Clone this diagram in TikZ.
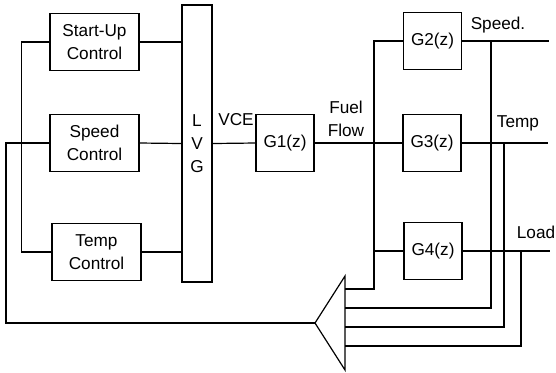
\documentclass[tikz,border=0pt]{standalone}
\usepackage{fontspec}
\setmainfont{Liberation Sans}

\begin{document}
\begin{tikzpicture}[x=0.5pt, y=-0.5pt, line width=0.6pt,
  font=\fontsize{8.6}{11.6}\selectfont,
  ctrl/.style={draw, minimum width=44.5pt, minimum height=28.5pt, inner sep=0pt, align=center},
  gbox/.style={draw, minimum width=29pt, minimum height=28.5pt, inner sep=0pt},
  lbl/.style={inner sep=0pt, align=center}]
\useasboundingbox (0,0) rectangle (556,372);

% controllers and selector
\node[ctrl] (su) at (94.5,42) {Start-Up\\Control};
\node[ctrl] (sc) at (94.5,143) {Speed\\Control};
\node[ctrl] (tc) at (96.5,252) {Temp\\Control};
\node[draw, minimum width=15pt, minimum height=138.5pt, inner sep=0pt, align=center] (lvg) at (197,143.5) {L\\V\\G};

% plant blocks
\node[gbox] (g1) at (285,143) {G1(z)};
\node[gbox] (g2) at (432.5,41) {G2(z)};
\node[gbox] (g3) at (432,143) {G3(z)};
\node[gbox] (g4) at (433,251) {G4(z)};

% summing amplifier
\coordinate (amptop) at (345,276);
\coordinate (ampbot) at (345,370);
\coordinate (amp) at (315,323);
\draw (amptop) -- (amp) -- (ampbot) -- cycle;
\coordinate (in1) at (345,289);
\coordinate (in2) at (345,308);
\coordinate (in3) at (345,327);
\coordinate (in4) at (345,346);

% controllers into LVG
\draw (su.east) -- (lvg.west |- su.east);
\draw (sc.east) -- (lvg.west);
\draw (tc.east) -- (lvg.west |- tc.east);
\draw (su.west) -- ++(-28,0) |- (tc.west);
\draw (amp) -- (6,323) |- (sc.west);

% forward path
\draw (lvg.east) -- (g1.west);
\node[lbl] (vce) at (236,120) {VCE};
\coordinate (ff) at (374,143);
\draw (g1.east) -- (ff);
\fill (ff) circle (1.5);
\node[lbl] (fuel) at (346,119) {Fuel\\Flow};
\draw (g2.west) -- (ff |- g2.west) -- (ff |- in1) -- (in1);
\draw (ff) -- (g3.west);
\draw (ff |- g4.west) -- (g4.west);

% outputs
\coordinate (spd) at (491,41);
\coordinate (tmp) at (504,143);
\coordinate (ld) at (521,251);
\draw (g2.east) -- (549,41);
\draw (g3.east) -- (548,143);
\draw (g4.east) -- (550,251);
\node[lbl] (spdl) at (498,25) {Speed.};
\node[lbl] (tmpl) at (518,123) {Temp};
\node[lbl] (ldl) at (536,232) {Load};

% feedback into amplifier
\draw (spd) |- (in2);
\draw (tmp) |- (in3);
\draw (ld) |- (in4);
\end{tikzpicture}
\end{document}
